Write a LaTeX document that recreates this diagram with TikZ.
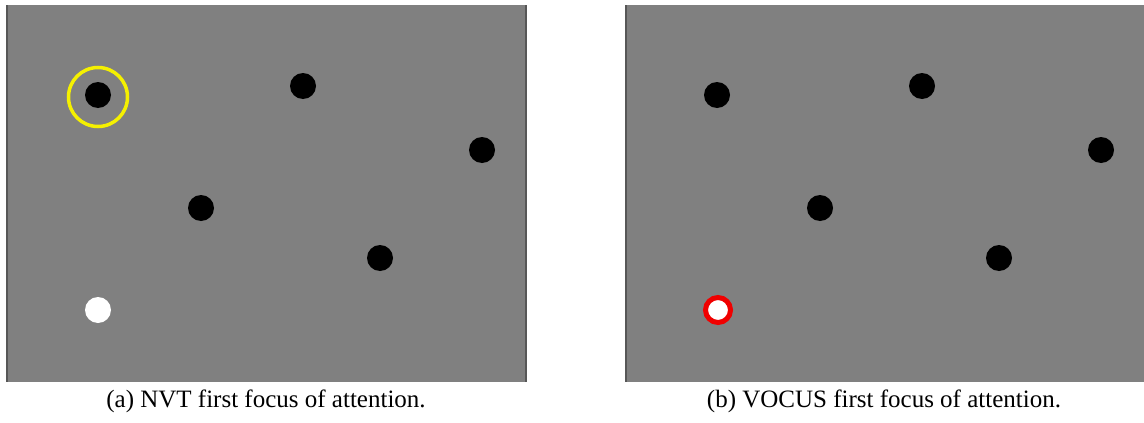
\documentclass[tikz,border=0pt]{standalone}
\usepackage{fontspec}
\setmainfont{Liberation Serif}
\definecolor{panelgrey}{HTML}{808080}
\definecolor{edgegrey}{HTML}{575757}
\definecolor{ringyellow}{HTML}{F5F000}
\definecolor{ringred}{HTML}{F00000}
\tikzset{
  panel/.style={fill=panelgrey, draw=none},
  edge/.style={draw=edgegrey, line width=2pt},
  dot/.style={circle, fill=black, inner sep=0pt, minimum size=26pt},
  whitedot/.style={circle, fill=white, inner sep=0pt, minimum size=26pt},
  yellowring/.style={circle, draw=ringyellow, line width=3.5pt, inner sep=0pt, minimum size=59pt},
  redring/.style={circle, draw=ringred, fill=white, line width=5pt, inner sep=0pt, minimum size=25pt},
  caption/.style={font=\fontsize{25pt}{29pt}\selectfont, anchor=base, inner sep=0pt}
}
\begin{document}
\begin{tikzpicture}[x=1pt, y=-1pt]
\useasboundingbox (0,0) rectangle (1144,423);
% left panel
\fill[panel] (6,5) rectangle (527,382);
\draw[edge] (7,5) -- (7,382);
\draw[edge] (526,5) -- (526,382);
% right panel
\fill[panel] (625,5) rectangle (1144,382);
\draw[edge] (626,5) -- (626,382);
% left panel stimuli
\node[dot] (a1) at (98,95) {};
\node[yellowring] (afocus) at (98,97) {};
\node[dot] (a2) at (303,86) {};
\node[dot] (a3) at (482,150) {};
\node[dot] (a4) at (201,208) {};
\node[dot] (a5) at (380,258) {};
\node[whitedot] (a6) at (98,310) {};
% right panel stimuli
\node[dot] (b1) at (717,95) {};
\node[dot] (b2) at (922,86) {};
\node[dot] (b3) at (1101,150) {};
\node[dot] (b4) at (820,208) {};
\node[dot] (b5) at (999,258) {};
\node[redring] (bfocus) at (718,310) {};
% captions
\node[caption] (capa) at (266,407) {(a) NVT first focus of attention.};
\node[caption] (capb) at (884,407) {(b) VOCUS first focus of attention.};
\end{tikzpicture}
\end{document}
